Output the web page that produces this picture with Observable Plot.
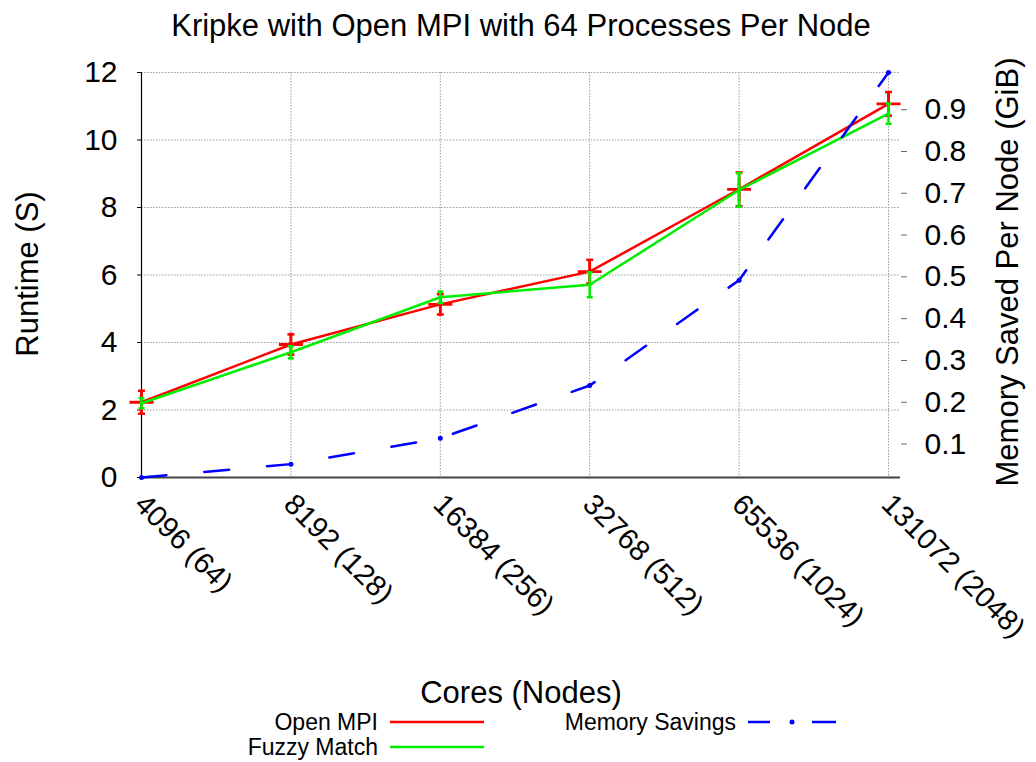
<!DOCTYPE html>
<html><head><meta charset="utf-8">
<script src="https://cdn.jsdelivr.net/npm/d3@7"></script>
<script src="https://cdn.jsdelivr.net/npm/@observablehq/plot@0.6"></script>
<style>
body{margin:0;background:#fff;font-family:"Liberation Sans",Arial,Helvetica,sans-serif;}
#wrap{position:relative;width:1036px;height:762px;overflow:hidden;}
#wrap svg{position:absolute;left:0;top:0;}
</style></head><body><div id="wrap"></div>
<script>
// ---- data ----
const categories = ["4096 (64)", "8192 (128)", "16384 (256)", "32768 (512)", "65536 (1024)", "131072 (2048)"];
const openMpi    = [2.23, 3.94, 5.13, 6.10, 8.54, 11.07];
const openMpiErr = [0.34, 0.30, 0.30, 0.35, 0.50, 0.35];
const fuzzy      = [2.20, 3.71, 5.34, 5.71, 8.52, 10.78];
const fuzzyErr   = [0.15, 0.18, 0.17, 0.37, 0.50, 0.30];
const memory     = [0.020, 0.052, 0.114, 0.240, 0.492, 0.989];
const leftTicks  = [0, 2, 4, 6, 8, 10, 12];
const rightTicks = [0.1, 0.2, 0.3, 0.4, 0.5, 0.6, 0.7, 0.8, 0.9];
const titleText = "Kripke with Open MPI with 64 Processes Per Node";
const xLabel = "Cores (Nodes)";
const yLabel = "Runtime (S)";
const y2Label = "Memory Saved Per Node (GiB)";
const seriesNames = ["Open MPI", "Fuzzy Match", "Memory Savings"];
const colors = ["#ff0000", "#00ee00", "#0000ff"];

// map memory (right axis) into left-axis units
const memToY = d3.scaleLinear().domain([d3.min(memory), d3.max(memory)]).range([0, 12]);
const rows = categories.map((c, i) => ({
  i, c,
  mpi: openMpi[i], mpiLo: openMpi[i] - openMpiErr[i], mpiHi: openMpi[i] + openMpiErr[i],
  fz: fuzzy[i], fzLo: fuzzy[i] - fuzzyErr[i], fzHi: fuzzy[i] + fuzzyErr[i],
  mem: memToY(memory[i])
}));
const xIdx = categories.map((_, i) => i);

const plusSym = {draw(ctx, size){const a = Math.sqrt(size / Math.PI); ctx.moveTo(-a, 0); ctx.lineTo(a, 0); ctx.moveTo(0, -a); ctx.lineTo(0, a);}};
const capSym = {draw(ctx, size){const a = Math.sqrt(size / Math.PI); ctx.moveTo(-a, 0); ctx.lineTo(a, 0);}};

const fmt1 = d3.format(".1f");
const grid = {stroke: "#9a9a9a", strokeOpacity: 1, strokeWidth: 1, strokeDasharray: "1.5,1.5"};
const FONT = "'Liberation Sans', Arial, Helvetica, sans-serif";

const plot = Plot.plot({
  width: 1036, height: 762,
  marginLeft: 141, marginRight: 136, marginTop: 72, marginBottom: 285,
  style: {fontFamily: FONT, fontSize: "30px", background: "white", color: "black"},
  x: {type: "linear", domain: [0, 5], range: [141, 888], axis: null},
  y: {domain: [0, 12], axis: null},
  marks: [
    Plot.gridY(leftTicks, grid),
    Plot.gridX(xIdx, grid),
    Plot.ruleY([0], {stroke: "#444", strokeWidth: 2}),
    Plot.ruleX([0], {stroke: "black", strokeWidth: 1.2}),
    Plot.axisY(leftTicks, {anchor: "left", tickSize: 4, tickPadding: 20, fontSize: 30, label: null, tickFormat: d => String(d)}),
    Plot.axisY(rightTicks.map(t => memToY(t)), {anchor: "right", tickSize: 6, tickPadding: 18, fontSize: 30, label: null, stroke: "#666", tickFormat: v => fmt1(memToY.invert(v))}),
    // Open MPI
    Plot.line(rows, {x: "i", y: "mpi", stroke: colors[0], strokeWidth: 2.5}),
    Plot.ruleX(rows, {x: "i", y1: "mpiLo", y2: "mpiHi", stroke: colors[0], strokeWidth: 2.5}),
    Plot.dot(rows, {x: "i", y: "mpiLo", symbol: capSym, r: 3.5, stroke: colors[0], strokeWidth: 2.5}),
    Plot.dot(rows, {x: "i", y: "mpiHi", symbol: capSym, r: 3.5, stroke: colors[0], strokeWidth: 2.5}),
    Plot.dot(rows, {x: "i", y: "mpi", symbol: plusSym, r: 12, stroke: colors[0], strokeWidth: 2.8}),
    // Fuzzy Match
    Plot.line(rows, {x: "i", y: "fz", stroke: colors[1], strokeWidth: 2.5}),
    Plot.ruleX(rows, {x: "i", y1: "fzLo", y2: "fzHi", stroke: colors[1], strokeWidth: 2.5}),
    Plot.dot(rows, {x: "i", y: "fzLo", symbol: capSym, r: 3, stroke: colors[1], strokeWidth: 2.5}),
    Plot.dot(rows, {x: "i", y: "fzHi", symbol: capSym, r: 3, stroke: colors[1], strokeWidth: 2.5}),
    Plot.dot(rows, {x: "i", y: "fz", r: 2, fill: colors[1]}),
    // Memory savings
    Plot.line(rows, {x: "i", y: "mem", stroke: colors[2], strokeWidth: 2.5, strokeDasharray: "25,38"}),
    Plot.dot(rows, {x: "i", y: "mem", r: 2.5, fill: colors[2]}),
    // x tick labels
    Plot.text(rows, {x: "i", text: "c", frameAnchor: "bottom", rotate: 45, textAnchor: "start", lineAnchor: "middle", dx: -2, dy: 22, fontSize: 29}),
    // titles
    Plot.text([titleText], {frameAnchor: "top", lineAnchor: "top", dy: -59, fontSize: 31}),
    Plot.text([xLabel], {frameAnchor: "bottom", lineAnchor: "middle", dy: 216, fontSize: 31})
  ]
});
const wrap = document.getElementById("wrap");
wrap.appendChild(plot);

// overlay: rotated axis titles + legend
const ov = d3.select(wrap).append("svg").attr("width", 1036).attr("height", 762)
  .style("font-family", FONT).style("font-size", "23px");
ov.append("text").attr("transform", "translate(27,274) rotate(-90)").attr("text-anchor", "middle")
  .attr("dy", "0.36em").style("font-size", "31px").text(yLabel);
ov.append("text").attr("transform", "translate(1007,272) rotate(-90)").attr("text-anchor", "middle")
  .attr("dy", "0.36em").style("font-size", "31px").text(y2Label);

const items = [
  {name: seriesNames[0], color: colors[0], tx: 378, y: 722, x1: 390, x2: 484, dash: false},
  {name: seriesNames[1], color: colors[1], tx: 378, y: 747, x1: 390, x2: 484, dash: false},
  {name: seriesNames[2], color: colors[2], tx: 736, y: 722, x1: 748, x2: 836, dash: true}
];
for (const it of items) {
  ov.append("text").attr("x", it.tx).attr("y", it.y).attr("dy", "0.35em").attr("text-anchor", "end").text(it.name);
  if (it.dash) {
    ov.append("line").attr("x1", it.x1).attr("x2", it.x1 + 22).attr("y1", it.y).attr("y2", it.y).attr("stroke", it.color).attr("stroke-width", 2.5);
    ov.append("line").attr("x1", it.x2 - 24).attr("x2", it.x2).attr("y1", it.y).attr("y2", it.y).attr("stroke", it.color).attr("stroke-width", 2.5);
    ov.append("circle").attr("cx", (it.x1 + it.x2) / 2).attr("cy", it.y).attr("r", 2.5).attr("fill", it.color);
  } else {
    ov.append("line").attr("x1", it.x1).attr("x2", it.x2).attr("y1", it.y).attr("y2", it.y).attr("stroke", it.color).attr("stroke-width", 2.5);
  }
}
</script></body></html>
